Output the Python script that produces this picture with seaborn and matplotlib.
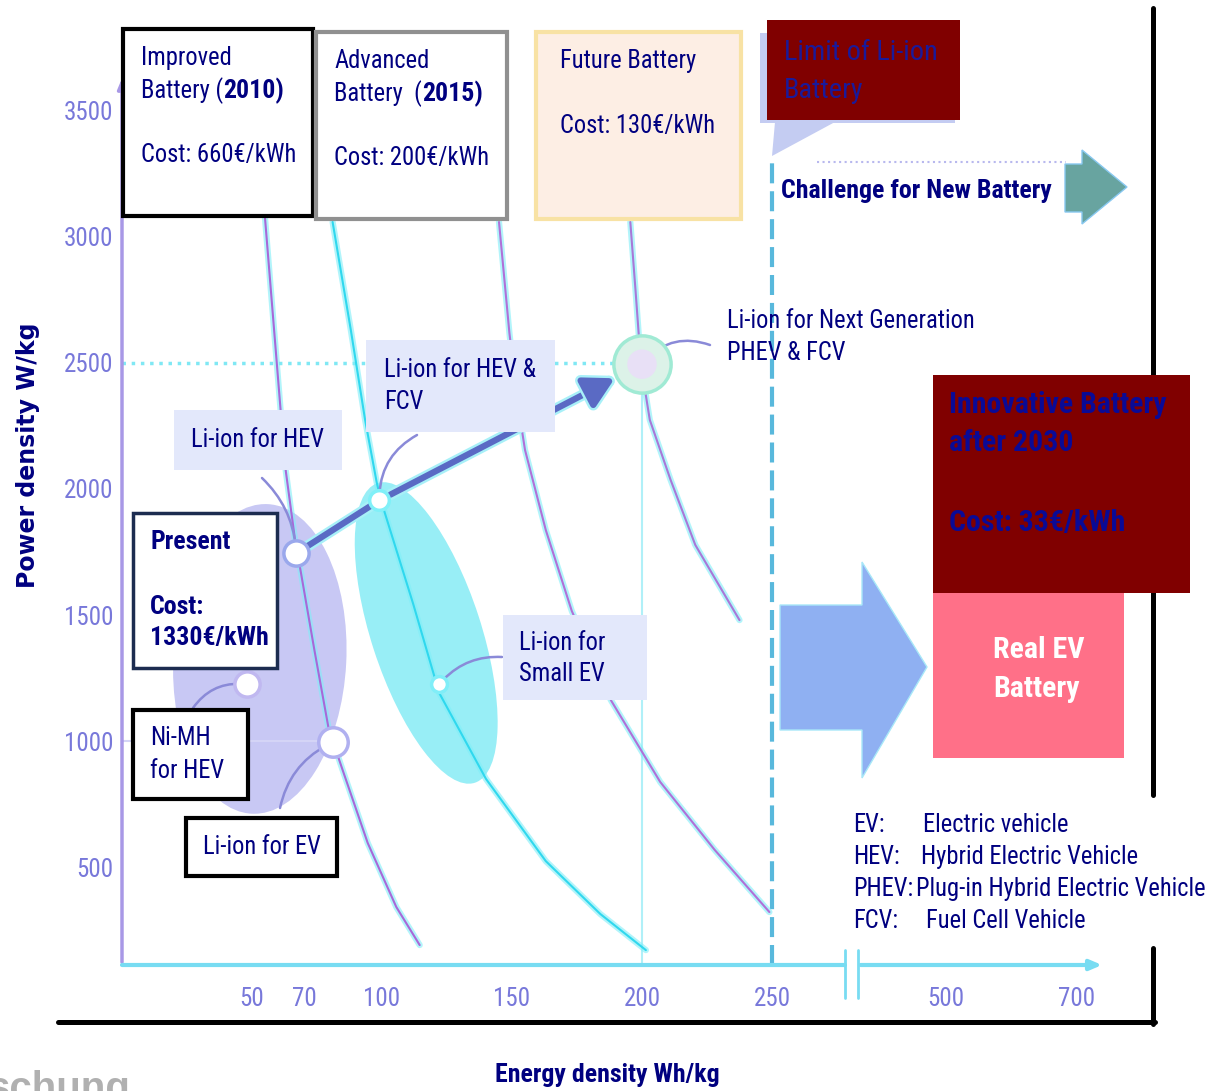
import numpy as np
import pandas as pd
import seaborn as sns
import matplotlib.pyplot as plt
import matplotlib.patheffects as pe
from matplotlib import transforms
from matplotlib import font_manager as fm
from matplotlib.patches import Rectangle, Ellipse, Polygon

W, H = 1214, 1091

# Ragone curves: energy (Wh/kg) vs power (W/kg)
present_curve_e = [55, 61, 63, 66.5, 68.5, 74, 79.5, 85, 94.5, 105.5, 114.5]
present_curve_p = [3075, 2313, 2071, 1802, 1687, 1361, 1048, 881, 596, 342, 191]
hev_fcv_curve_e = [81, 88, 93.5, 98, 100, 112, 122, 140, 163, 184, 201.5]
hev_fcv_curve_p = [3059, 2631, 2274, 2024, 1941, 1544, 1191, 850, 524, 314, 171]
future_curve_e = [145, 149, 152, 155, 163, 173, 188, 207, 228, 249]
future_curve_p = [3059, 2619, 2353, 2155, 1837, 1516, 1163, 838, 568, 322]
next_curve_e = [195.5, 197.5, 199.6, 203, 211, 220.5, 237.5]
next_curve_p = [3059, 2789, 2492, 2274, 2036, 1778, 1480]

# battery operating points
point_names = ['present', 'hev_fcv', 'next_gen', 'ev', 'nimh', 'small_ev']
point_energy = [67, 99, 200, 81, 48, 122]
point_power = [1745, 1955, 2495, 995, 1225, 1225]

# technology regions (centre energy, centre power)
nimh_region = (53, 1326)
liion_region = (117, 1429)

limit_energy = 250
x_tick_values = [50, 70, 100, 150, 200, 250, 500, 700]
y_tick_values = [500, 1000, 1500, 2000, 2500, 3000, 3500]

navy = '#000080'
maroon = '#800000'
tick_col = '#7878da'

# narrow sans like the original slide, whatever is installed
avail = {f.name for f in fm.fontManager.ttflist}
if 'Liberation Sans Narrow' in avail:
    fam, k, kb = 'Liberation Sans Narrow', 1.0, 1.0
elif 'Roboto Condensed' in avail:
    fam, k, kb = 'Roboto Condensed', 0.93, 0.98
else:
    fam, k, kb = 'Liberation Sans', 0.84, 0.84


def axis_x(v):
    # the energy axis is broken after 250
    return v if v <= 250 else 317 + (v - 500) / 4


sns.set_style('white')
plt.rcParams['font.family'] = [fam, 'DejaVu Sans']

fig = plt.figure(figsize=(W / 100, H / 100), dpi=100)
ax = fig.add_axes([122 / W, 1 - 965 / H, (1110 - 122) / W, (965 - 75) / H])
ax.set_xlim(0, 380)
ax.set_ylim(112, 3642)
ax.patch.set_alpha(0)
for s in ax.spines.values():
    s.set_visible(False)

# overlay in pixel units for the boxes and labels
ov = fig.add_axes([0, 0, 1, 1])
ov.set_xlim(0, W)
ov.set_ylim(H, 0)
ov.axis('off')
ov.patch.set_alpha(0)

# regions
t1 = fig.dpi_scale_trans + transforms.ScaledTranslation(nimh_region[0], nimh_region[1], ax.transData)
ax.add_patch(Ellipse((0, 0), 1.73, 3.1, angle=-3, transform=t1, fc='#c8c8f4', ec='none', zorder=1))
t2 = fig.dpi_scale_trans + transforms.ScaledTranslation(liion_region[0], liion_region[1], ax.transData)
ax.add_patch(Ellipse((0, 0), 1.1, 3.15, angle=18, transform=t2, fc='#7eeaf4', ec='none', alpha=0.8, zorder=1))

# guide lines
ax.hlines(2500, 0, 200, color='#80e8f4', lw=2.5, linestyles=':', zorder=2)
ax.vlines(200, 112, 2470, color='#b0f0f8', lw=1.5, zorder=2)
ax.hlines(1000, 0, 81, color='#d4d4f6', lw=1.5, zorder=2)
ax.vlines(limit_energy, 112, 3305, color='#58b8dc', lw=3, linestyles=[(0, (4.8, 1.9))], zorder=2)

# curves
for e, p, core in [(present_curve_e, present_curve_p, '#a868d8'),
                   (hev_fcv_curve_e, hev_fcv_curve_p, '#30d8ee'),
                   (future_curve_e, future_curve_p, '#b070d8'),
                   (next_curve_e, next_curve_p, '#a878d8')]:
    sns.lineplot(x=e, y=p, sort=False, estimator=None, ax=ax, color='#80eef8', lw=4.5, alpha=0.6, zorder=3)
    sns.lineplot(x=e, y=p, sort=False, estimator=None, ax=ax, color=core, lw=1.5, zorder=3)

# axis lines
ax.annotate('', xy=(0, 3640), xytext=(0, 112), annotation_clip=False,
            arrowprops=dict(arrowstyle='-|>,head_width=0.25,head_length=0.6', color='#a898e6', lw=2.5))
ax.plot([0, 278], [112, 112], color='#78dcf2', lw=3, clip_on=False, zorder=4)
ax.annotate('', xy=(378, 112), xytext=(283, 112), annotation_clip=False,
            arrowprops=dict(arrowstyle='-|>,head_width=0.3,head_length=0.7', color='#78dcf2', lw=3))
for bx in (278, 283):
    ax.plot([bx, bx], [171, -19], color='#78dcf2', lw=2, clip_on=False)

ax.set_xticks([axis_x(v) for v in x_tick_values], labels=[str(v) for v in x_tick_values])
ax.set_yticks(y_tick_values, labels=[str(v) for v in y_tick_values])
ax.tick_params(axis='x', direction='in', length=8, width=1.5, color='#8fd8f0', pad=16,
               labelsize=18, labelcolor=tick_col)
ax.tick_params(axis='y', direction='in', length=8, width=1.5, color='#b0b0ee', pad=6,
               labelsize=18, labelcolor=tick_col)

# path between the battery generations
halo = [pe.Stroke(linewidth=8, foreground='#a8f0f8'), pe.Normal()]
ax.annotate('', xy=(point_energy[1], point_power[1]), xytext=(point_energy[0], point_power[0]),
            arrowprops=dict(arrowstyle='-', color='#5a6ac4', lw=4.5, shrinkA=9, shrinkB=8,
                            path_effects=halo), zorder=4)
ax.annotate('', xy=(point_energy[2], point_power[2]), xytext=(point_energy[1], point_power[1]),
            arrowprops=dict(arrowstyle='-|>,head_width=0.55,head_length=1.0', mutation_scale=18,
                            color='#5a6ac4', lw=4.5, shrinkA=9, shrinkB=22, path_effects=halo), zorder=4)

# leaders from labels to points
leaders = {'present': ((262, 478), -0.2), 'hev_fcv': ((417, 435), 0.3), 'next_gen': ((710, 345), 0.35),
           'small_ev': ((502, 657), 0.25), 'nimh': ((193, 708), -0.3), 'ev': ((280, 808), -0.25)}
for name, e, p in zip(point_names, point_energy, point_power):
    start, rad = leaders[name]
    ax.annotate('', xy=(e, p), xytext=start, textcoords=ov.transData,
                arrowprops=dict(arrowstyle='-', color='#8a8ad8', lw=1.8, shrinkA=0, shrinkB=5,
                                connectionstyle=f'arc3,rad={rad}'), zorder=4)

marker_style = {'present': (330, '#9aa8ec'), 'hev_fcv': (200, '#80f0f8'), 'next_gen': (1700, '#a0ead4'),
                'ev': (450, '#b0b0f0'), 'nimh': (330, '#c0b8f0'), 'small_ev': (130, '#80eef8')}
for name, e, p in zip(point_names, point_energy, point_power):
    size, ec = marker_style[name]
    face = '#dcf2e8' if name == 'next_gen' else 'white'
    sns.scatterplot(x=[e], y=[p], s=size, color=face, edgecolor=ec, linewidth=2.5, ax=ax, zorder=5)
    if name == 'next_gen':
        sns.scatterplot(x=[e], y=[p], s=450, color='#e8e0f6', edgecolor='none', ax=ax, zorder=5)


# ---- boxes and labels (pixel coordinates) ----
def box(x0, y0, x1, y1, fc='white', ec='none', lw=0):
    ov.add_patch(Rectangle((x0, y0), x1 - x0, y1 - y0, fc=fc, ec=ec, lw=lw, zorder=6))


def label(x, y, s, size=19, color=navy, weight='normal', **kw):
    f = kb if weight == 'bold' else k
    return ov.text(x, y, s, fontsize=size * f, color=color, fontweight=weight, ha='left', va='center',
                   zorder=7, **kw)


def run(x, y, parts, size=19, color=navy, gap=0):
    r = fig.canvas.get_renderer()
    for s, w in parts:
        t = label(x, y, s, size=size, color=color, weight=w)
        x += t.get_window_extent(r).width + gap
    return x


box(123, 29, 313, 216, ec='black', lw=3)
label(141, 58, 'Improved')
run(141, 91, [('Battery (', 'normal'), ('2010)', 'bold')])
label(141, 155, 'Cost: 660€/kWh')

box(316, 32, 507, 219, ec='#909090', lw=3)
label(334, 61, 'Advanced')
run(334, 94, [('Battery  (', 'normal'), ('2015)', 'bold')])
label(334, 158, 'Cost: 200€/kWh')

box(536, 32, 741, 219, fc='#fdeee4', ec='#f8e2a4', lw=3)
label(560, 61, 'Future Battery')
label(560, 126, 'Cost: 130€/kWh')

ov.add_patch(Rectangle((760, 33), 195, 90, fc='#c4ccf2', ec='none', zorder=5))
ov.add_patch(Polygon([(775, 122), (835, 122), (772, 156)], fc='#c4ccf2', ec='none', zorder=5))
box(767, 20, 960, 120, fc=maroon)
label(784, 52, 'Limit of Li-ion', size=22, color='#1a1a9a')
label(784, 90, 'Battery', size=22, color='#1a1a9a')

ov.plot([817, 1066], [162, 162], color='#b8b8ee', lw=1.5, ls=':', zorder=5)
ov.add_patch(Polygon([(1065, 164), (1082, 164), (1082, 150), (1127, 187), (1082, 224), (1082, 212), (1065, 212)],
                     fc='#68a4a0', ec='#88c8f0', lw=1, zorder=6))
label(781, 191, 'Challenge for New Battery', weight='bold')

label(727, 321, 'Li-ion for Next Generation')
label(727, 353, 'PHEV & FCV')

box(933, 375, 1190, 593, fc=maroon)
label(949, 405, 'Innovative Battery', size=22, color='#0a0a96', weight='bold')
label(949, 443, 'after 2030', size=22, color='#0a0a96', weight='bold')
label(949, 523, 'Cost: 33€/kWh', size=22, color='#0a0a96', weight='bold')

box(933, 593, 1124, 758, fc='#ff7088')
label(993, 650, 'Real EV', size=22, color='white', weight='bold')
label(993, 689, 'Battery', size=22, color='white', weight='bold')

ov.add_patch(Polygon([(780, 605), (862, 605), (862, 562), (927, 667), (862, 778), (862, 730), (780, 730)],
                     fc='#8fb0f2', ec='#a8e8f8', lw=1, zorder=6))

legend_rows = [('EV:', 'Electric vehicle', 923), ('HEV:', 'Hybrid Electric Vehicle', 921),
               ('PHEV:', 'Plug-in Hybrid Electric Vehicle', 909), ('FCV:', 'Fuel Cell Vehicle', 926)]
r = fig.canvas.get_renderer()
for i, (abbr, full, xd) in enumerate(legend_rows):
    t = label(853, 825 + 32 * i, abbr)
    end = 853 + t.get_window_extent(r).width + 3
    label(max(xd, end), 825 + 32 * i, full)

box(174, 410, 342, 470, fc='#e3e8fb')
label(191, 440, 'Li-ion for HEV')
box(366, 340, 555, 432, fc='#e3e8fb')
label(384, 370, 'Li-ion for HEV &')
label(384, 402, 'FCV')
box(503, 615, 647, 700, fc='#e3e8fb')
label(519, 643, 'Li-ion for')
label(519, 674, 'Small EV')

box(133, 513, 277, 668, ec='#1c2c50', lw=2.5)
label(150, 542, 'Present', weight='bold')
label(150, 607, 'Cost:', weight='bold')
label(150, 638, '1330€/kWh', weight='bold')
box(133, 710, 248, 799, ec='black', lw=3)
label(150, 738, 'Ni-MH')
label(150, 771, 'for HEV')
box(186, 818, 337, 876, ec='black', lw=3)
label(203, 847, 'Li-ion for EV')

# frame lines
ov.plot([1153, 1153], [8, 795], color='black', lw=3.6, zorder=5)
ov.plot([1153, 1153], [948, 1024], color='black', lw=3.6, zorder=5)
ov.plot([58, 1155], [1022, 1022], color='black', lw=3.6, zorder=5)

ov.text(28, 455, 'Power density W/kg', rotation=90, fontsize=17, fontweight='bold', color=navy,
        ha='center', va='center', family=['DejaVu Sans'])
ov.text(607, 1075, 'Energy density Wh/kg', fontsize=19 * kb, fontweight='bold', color=navy,
        ha='center', va='center')
ov.text(-12, 1100, 'schung', fontsize=29, fontweight='bold', color='#b0b0b0', ha='left', va='baseline',
        family=['Liberation Sans', 'DejaVu Sans'])

fig.savefig('out.png', dpi=100)
